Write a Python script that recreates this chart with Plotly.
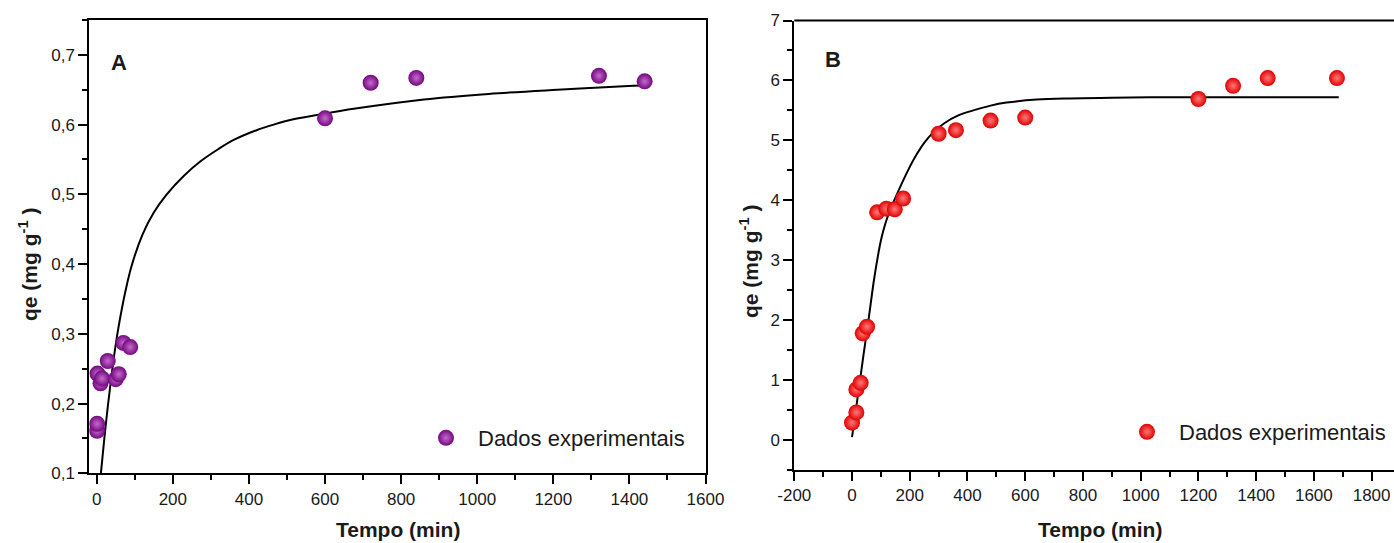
import plotly.graph_objects as go

W, H = 1394, 543

# ---------------- data ----------------
# Panel A
a_time = [1, 1, 2, 10, 14, 29, 50, 58, 70, 88, 600, 720, 840, 1320, 1440]
a_qe = [0.161, 0.171, 0.243, 0.229, 0.236, 0.261, 0.235, 0.242, 0.287, 0.281,
        0.609, 0.660, 0.667, 0.670, 0.662]
a_fit_t = [11, 20, 30, 40, 50, 60, 75, 92, 120, 150, 184, 230, 272, 320, 360,
           420, 465, 520, 590, 680, 860, 1030, 1210, 1385, 1440]
a_fit_q = [0.100, 0.150, 0.200, 0.245, 0.285, 0.318, 0.360, 0.398, 0.442, 0.474,
           0.500, 0.527, 0.547, 0.565, 0.578, 0.592, 0.600, 0.608, 0.615, 0.623,
           0.636, 0.644, 0.650, 0.655, 0.656]

# Panel B
b_time = [0, 15, 15, 30, 37, 52, 87, 119, 148, 177, 300, 360, 480, 600,
          1200, 1320, 1440, 1680]
b_qe = [0.29, 0.46, 0.845, 0.955, 1.78, 1.89, 3.80, 3.86, 3.85, 4.03, 5.11,
        5.17, 5.33, 5.38, 5.69, 5.91, 6.04, 6.04]
b_fit_t = [0, 10, 27, 40, 57, 76, 90, 100, 110, 120, 133, 160, 194, 222, 252,
           285, 321, 370, 420, 480, 535, 640, 755, 900, 1100, 1300, 1500, 1686]
b_fit_q = [0.05, 0.39, 0.97, 1.43, 2.00, 2.67, 3.08, 3.33, 3.52, 3.68, 3.85,
           4.15, 4.50, 4.75, 4.97, 5.15, 5.29, 5.42, 5.50, 5.58, 5.63, 5.68,
           5.70, 5.71, 5.72, 5.72, 5.72, 5.72]

a_xticks = [0, 200, 400, 600, 800, 1000, 1200, 1400, 1600]
a_xticktext = ["0", "200", "400", "600", "800", "1000", "1200", "1400", "1600"]
b_xticks = [-200, 0, 200, 400, 600, 800, 1000, 1200, 1400, 1600, 1800]
b_xticktext = ["-200", "0", "200", "400", "600", "800", "1000", "1200", "1400", "1600", "1800"]

legend_label = "Dados experimentais"
x_title = "Tempo (min)"
y_title = "qe (mg g<sup>-1</sup> )"

FONT = "Liberation Sans, Arial, Helvetica, sans-serif"
TXT = "#1a1a1a"


def px_x(p):
    return p / W


def px_y(p):
    return 1 - p / H


fig = go.Figure()

# Panel A
fig.add_trace(go.Scatter(
    x=a_fit_t, y=a_fit_q, mode="lines", line=dict(color="black", width=2, shape="spline", smoothing=1.0),
    showlegend=False, xaxis="x", yaxis="y", hoverinfo="skip"))
fig.add_trace(go.Scatter(
    x=a_time, y=a_qe, mode="markers", name=legend_label,
    marker=dict(size=16, color="#74077f", line=dict(width=0),
                gradient=dict(type="radial", color="#c46ccc")),
    xaxis="x", yaxis="y", legend="legend"))

# Panel B
fig.add_trace(go.Scatter(
    x=b_fit_t, y=b_fit_q, mode="lines", line=dict(color="black", width=2, shape="spline", smoothing=1.0),
    showlegend=False, xaxis="x2", yaxis="y2", hoverinfo="skip"))
fig.add_trace(go.Scatter(
    x=b_time, y=b_qe, mode="markers", name=legend_label,
    marker=dict(size=16, color="#e00000", line=dict(width=0),
                gradient=dict(type="radial", color="#ff7a7a")),
    xaxis="x2", yaxis="y2", legend="legend2"))

axis_common = dict(
    showline=True, linecolor="black", linewidth=2, ticks="outside", ticklen=9,
    tickwidth=2, tickcolor="black", showgrid=False, zeroline=False, automargin=False,
    tickfont=dict(family=FONT, size=17, color=TXT),
)
minor_common = dict(ticks="outside", ticklen=5, tickwidth=2, tickcolor="black", showgrid=False)

fig.update_layout(
    template="none",
    width=W, height=H, margin=dict(l=0, r=0, t=0, b=0, pad=0, autoexpand=False),
    paper_bgcolor="white", plot_bgcolor="white",
    separators=", ",
    font=dict(family=FONT, color=TXT),
    xaxis=dict(**axis_common, domain=[px_x(89.3), px_x(705.5)], range=[-19.5, 1600],
               tickmode="array", tickvals=a_xticks, ticktext=a_xticktext, mirror=True,
               minor=dict(**minor_common, dtick=100, tick0=0),
               anchor="y"),
    yaxis=dict(**axis_common, domain=[px_y(473.3), px_y(20)], range=[0.1, 0.75],
               dtick=0.1, tick0=0.1, tickformat=".1f", mirror=True,
               minor=dict(**minor_common, dtick=0.05, tick0=0.1),
               anchor="x"),
    xaxis2=dict(**axis_common, domain=[px_x(794.3), 1.0], range=[-200, 1877.6],
                tickmode="array", tickvals=b_xticks, ticktext=b_xticktext, mirror=False,
                minor=dict(**minor_common, dtick=100, tick0=0),
                anchor="y2"),
    yaxis2=dict(**axis_common, domain=[px_y(470), px_y(20.5)], range=[-0.5, 7],
                dtick=1, tick0=0, mirror=False,
                minor=dict(**minor_common, dtick=0.5, tick0=0),
                anchor="x2"),
    legend=dict(x=px_x(414), y=px_y(438), xanchor="left", yanchor="middle",
                bgcolor="rgba(0,0,0,0)", borderwidth=0,
                font=dict(family=FONT, size=22, color=TXT), itemwidth=54),
    legend2=dict(x=px_x(1115), y=px_y(432), xanchor="left", yanchor="middle",
                 bgcolor="rgba(0,0,0,0)", borderwidth=0,
                 font=dict(family=FONT, size=22, color=TXT), itemwidth=54),
)

# top border of panel B (the panel is cut at the right edge of the picture)
fig.add_shape(type="line", xref="x2 domain", yref="y2 domain", x0=0, x1=1, y0=1, y1=1,
              line=dict(color="black", width=2))

annots = [
    dict(text="<b>A</b>", x=px_x(119), y=px_y(62), size=22),
    dict(text="<b>B</b>", x=px_x(833), y=px_y(59), size=22),
    dict(text="<b>" + x_title + "</b>", x=px_x(398), y=px_y(529), size=21),
    dict(text="<b>" + x_title + "</b>", x=px_x(1100), y=px_y(529), size=21),
    dict(text="<b>" + y_title + "</b>", x=px_x(28), y=px_y(264), size=21, angle=-90),
    dict(text="<b>" + y_title + "</b>", x=px_x(749), y=px_y(262), size=21, angle=-90),
]
for a in annots:
    fig.add_annotation(text=a["text"], x=a["x"], y=a["y"], xref="paper", yref="paper",
                       xanchor="center", yanchor="middle", showarrow=False,
                       textangle=a.get("angle", 0),
                       font=dict(family=FONT, size=a["size"], color=TXT))

fig.write_html("out.html")
